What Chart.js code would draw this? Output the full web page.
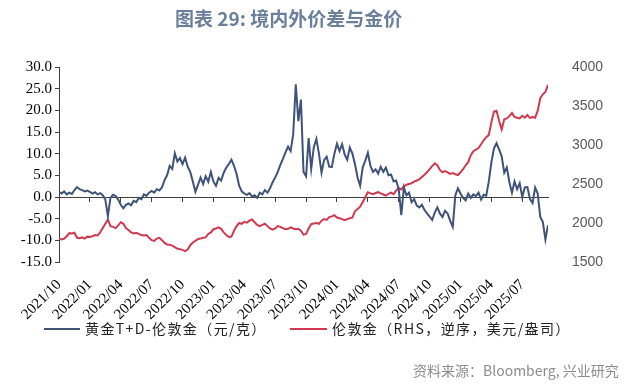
<!DOCTYPE html>
<html lang="zh">
<head>
<meta charset="UTF-8">
<title>境内外价差与金价</title>
<script src="https://cdn.jsdelivr.net/npm/chart.js"></script>
<style>
  body { margin: 0; background: #fff; }
  #wrap { position: relative; width: 640px; height: 384px; overflow: hidden; }
  canvas { position: absolute; left: 0; top: 0; }
  #title {
    position: absolute; left: 175px; top: 4px;
    font-family: "Noto Sans CJK SC", sans-serif; font-size: 19px; font-weight: bold;
    color: #6b7f9b; white-space: nowrap;
  }
  .legend {
    position: absolute; top: 318px;
    font-family: "Noto Sans CJK SC", sans-serif; font-size: 14px; color: #222;
    letter-spacing: 1.4px; white-space: nowrap;
  }
  .swatch { position: absolute; top: 328px; height: 0; border-top: 2px solid; }
  #source {
    position: absolute; left: 413px; top: 360px;
    font-family: "Noto Sans CJK SC", sans-serif; font-size: 14px; color: #8c8c8c;
    white-space: nowrap;
  }
</style>
</head>
<body>
<div id="wrap">
  <canvas id="chart" width="640" height="384"></canvas>
  <div id="title">图表 29: 境内外价差与金价</div>
  <div class="swatch" style="left:44px;width:36px;border-color:#3f5378"></div>
  <div class="legend" style="left:85px">黄金T+D-伦敦金（元/克）</div>
  <div class="swatch" style="left:290px;width:37px;border-color:#cf3a4f"></div>
  <div class="legend" style="left:332px">伦敦金（RHS，逆序，美元/盎司）</div>
  <div id="source">资料来源：Bloomberg, 兴业研究</div>
</div>
<script>
  // quarter labels, one every 3 months starting 2021/10
  const quarterLabels = ["2021/10", "2022/01", "2022/04", "2022/07", "2022/10", "2023/01",
    "2023/04", "2023/07", "2023/10", "2024/01", "2024/04", "2024/07", "2024/10",
    "2025/01", "2025/04", "2025/07"];

  // weekly samples, one row per quarter (元/克)
  const diffTD = [
    1.2, 0.8, 1.3, 0.6, 1.0, 0.7, 1.6, 2.3, 1.8, 1.6, 1.3, 1.5,
    1.2, 0.8, 1.1, 0.6, 0.9, 0.4, -0.6, -4.4, -0.2, 0.5, 0.2, -0.6,
    -1.8, -2.6, -1.8, -1.5, -1.9, -0.9, -1.2, -0.2, -0.5, 0.6, 0.3, 1.0,
    1.4, 1.0, 1.8, 1.5, 2.2, 3.9, 5.0, 7.2, 6.5, 10.1, 8.2, 9.0,
    7.6, 9.1, 7.0, 5.8, 3.6, 1.2, 2.8, 4.5, 3.0, 4.8, 3.5, 5.8,
    3.6, 2.6, 4.4, 3.8, 5.6, 6.8, 7.6, 8.6, 7.2, 5.3, 2.6, 1.3,
    0.8, 0.5, 0.9, 0.1, 0.4, -0.2, 1.0, 0.6, 1.6, 1.0, 2.0, 3.4,
    4.5, 5.8, 7.4, 8.8, 10.3, 11.6, 10.6, 14.5, 26.0, 17.5, 22.5, 5.8,
    4.8, 13.6, 6.5, 11.5, 13.4, 10.0, 5.6, 8.5, 9.3, 7.0, 6.9, 10.0,
    12.3, 10.6, 12.2, 9.8, 8.6, 11.4, 10.0, 7.6, 4.5, 2.6, 6.8, 8.4,
    10.2, 7.2, 5.8, 6.4, 5.4, 7.0, 5.8, 6.8, 5.0, 5.2, 3.6, 3.8,
    1.8, -4.2, 2.2, 0.4, 1.0, -1.2, -0.5, -2.0, -2.4, -1.8, -3.0, -3.8,
    -4.5, -5.3, -3.6, -2.4, -3.8, -4.6, -3.2, -3.8, -5.5, -6.9, 0.4, 2.0,
    0.8, -0.2, -0.8, 0.8, -0.2, 0.6, 0.2, 1.0, -0.6, 0.5, 0.3, 3.6,
    8.0, 11.2, 12.4, 11.0, 9.4, 5.6, 6.8, 3.4, 1.0, 3.6, 1.8, 3.2,
    0.0, 2.2, 2.3, -0.5, -1.4, 2.2, 0.8, -4.6, -5.8, -9.8, -6.5
  ];

  // London gold, USD/oz, same weekly samples
  const londonGold = [
    1795, 1790, 1800, 1830, 1870, 1865, 1875, 1810, 1805, 1815, 1800, 1825,
    1820, 1830, 1845, 1840, 1880, 1935, 1990, 2045, 1960, 1950, 1935, 1970,
    2010, 1990, 1935, 1910, 1880, 1865, 1875, 1860, 1845, 1840, 1845, 1810,
    1780, 1770, 1800, 1810, 1780, 1745, 1725, 1720, 1710, 1690, 1670, 1665,
    1655, 1640, 1660, 1715, 1750, 1770, 1795, 1800, 1810, 1815, 1860, 1880,
    1920, 1930, 1945, 1925, 1880, 1845, 1820, 1825, 1900, 1960, 2000, 1990,
    2015, 2005, 2030, 2045, 2010, 1975, 1960, 1975, 1990, 1960, 1930, 1915,
    1930, 1960, 1950, 1935, 1920, 1925, 1945, 1930, 1920, 1925, 1900, 1850,
    1860, 1930, 1985, 1995, 2000, 1990, 2030, 2050, 2040, 2075, 2085, 2100,
    2070, 2060, 2050, 2035, 2050, 2060, 2070, 2150, 2180, 2210, 2265, 2330,
    2395, 2380, 2370, 2385, 2395, 2380, 2365, 2350, 2375, 2390, 2370, 2415,
    2450, 2430, 2470, 2490, 2500, 2510, 2530, 2545, 2560, 2590, 2620, 2650,
    2690, 2730, 2765, 2740, 2680, 2650, 2665, 2650, 2630, 2640, 2625, 2615,
    2650, 2690, 2740, 2780, 2870, 2920, 2940, 2960, 3010, 3060, 3100, 3130,
    3290, 3430, 3440, 3310, 3200, 3330, 3340, 3370, 3410, 3360, 3350, 3340,
    3375, 3350, 3385, 3345, 3360, 3350, 3440, 3600, 3650, 3680, 3770
  ];

  // x position in months since 2021/10, one sample per quarter-month
  const months = diffTD.map((_, i) => i * 0.25);

  const axisColor = '#404040';

  const ctx = document.getElementById('chart').getContext('2d');
  new Chart(ctx, {
    type: 'line',
    data: {
      datasets: [{
        label: '黄金T+D-伦敦金（元/克）',
        data: months.map((m, i) => ({ x: m, y: diffTD[i] })),
        borderColor: '#3f5378',
        borderWidth: 2,
        pointRadius: 0,
        xAxisID: 'x',
        yAxisID: 'y'
      }, {
        label: '伦敦金（RHS，逆序，美元/盎司）',
        data: months.map((m, i) => ({ x: m, y: londonGold[i] })),
        borderColor: '#cf3a4f',
        borderWidth: 2,
        pointRadius: 0,
        xAxisID: 'x',
        yAxisID: 'y2'
      }]
    },
    options: {
      responsive: false,
      animation: false,
      layout: { padding: { top: 67, left: 0, right: 0, bottom: 0 } },
      plugins: {
        legend: { display: false },
        tooltip: { enabled: false }
      },
      scales: {
        x: {
          type: 'linear',
          position: 'bottom',
          min: 0,
          max: 47.5,
          grid: { display: false },
          border: { display: false },
          ticks: {
            stepSize: 3,
            includeBounds: false,
            autoSkip: false,
            minRotation: 45,
            maxRotation: 45,
            padding: 6,
            color: '#000',
            font: { family: 'Liberation Serif', size: 15 },
            callback: (v) => quarterLabels[Math.round(v / 3)]
          },
          afterFit: (s) => { s.height = 122; }
        },
        xZero: {
          type: 'linear',
          position: { y: 0 },
          min: 0,
          max: 47.5,
          grid: { drawOnChartArea: false, drawTicks: true, tickLength: 4, color: axisColor },
          border: { display: true, color: axisColor, width: 1 },
          ticks: { display: false, stepSize: 3, includeBounds: false }
        },
        y: {
          position: 'left',
          min: -15,
          max: 30,
          grid: { drawOnChartArea: false, drawTicks: true, tickLength: 4, color: axisColor },
          border: { display: true, color: axisColor },
          ticks: {
            stepSize: 5,
            padding: 3,
            color: '#000',
            font: { family: 'Liberation Serif', size: 15 },
            callback: (v) => v.toFixed(1)
          },
          afterFit: (s) => { s.width = 59; }
        },
        y2: {
          position: 'right',
          min: 1500,
          max: 4000,
          grid: { display: false },
          border: { display: false },
          ticks: {
            stepSize: 500,
            padding: 16,
            color: '#595959',
            font: { family: 'Liberation Sans', size: 14 },
            callback: (v) => String(v)
          },
          afterFit: (s) => { s.width = 92; }
        }
      }
    }
  });
</script>
</body>
</html>
